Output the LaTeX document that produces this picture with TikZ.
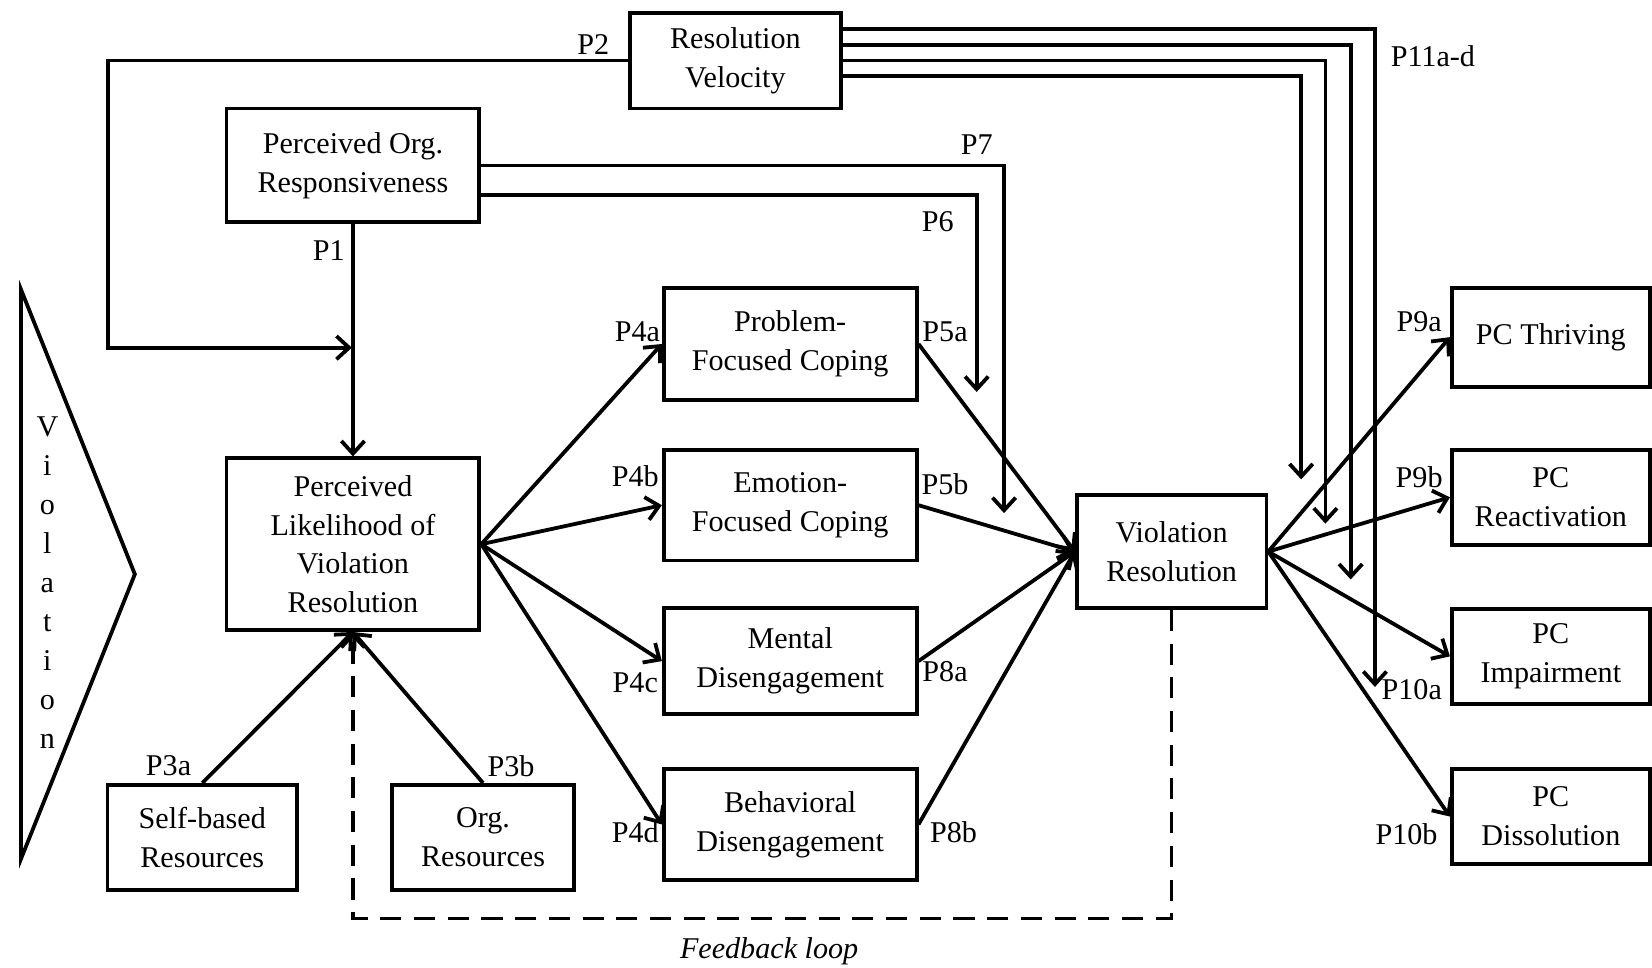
\documentclass[tikz,border=0pt]{standalone}
\usepackage{fontspec}
\setmainfont{Liberation Serif}
\usetikzlibrary{arrows.meta,calc}
\begin{document}
\begin{tikzpicture}[x=0.5pt,y=-0.5pt,
  box/.style={draw,line width=1.8pt,align=center,inner sep=2pt,font=\fontsize{14.3}{18.5}\selectfont},
  lbl/.style={font=\fontsize{14.3}{16}\selectfont,inner sep=0pt},
  arr/.style={line width=1.8pt,-{Straight Barb[length=6pt,width=11pt]}},
  ln/.style={line width=1.8pt},
  fb/.style={line width=1.8pt,dash pattern=on 10pt off 6pt,-{Straight Barb[length=6pt,width=11pt]}},
]
\useasboundingbox (0,0) rectangle (1568,918);

% boxes
\node[box,minimum width=100pt,minimum height=45.5pt] (RV) at (698,57.5) {Resolution\\Velocity};
\node[box,minimum width=120pt,minimum height=54pt] (POR) at (335,157) {Perceived Org.\\Responsiveness};
\node[box,minimum width=120pt,minimum height=81.5pt] (PLVR) at (335,516.5) {Perceived\\Likelihood of\\Violation\\Resolution};
\node[box,minimum width=90pt,minimum height=50pt] (SBR) at (192,795) {Self-based\\Resources};
\node[box,minimum width=86.5pt,minimum height=50pt] (OR) at (458.5,795) {Org.\\Resources};
\node[box,minimum width=120pt,minimum height=53.5pt] (PFC) at (750,326.5) {Problem-\\Focused Coping};
\node[box,minimum width=120pt,minimum height=52.5pt] (EFC) at (750,479.5) {Emotion-\\Focused Coping};
\node[box,minimum width=120pt,minimum height=50.5pt] (MD) at (750,627.5) {Mental\\Disengagement};
\node[box,minimum width=120pt,minimum height=52.5pt] (BD) at (750,782.5) {Behavioral\\Disengagement};
\node[box,minimum width=90pt,minimum height=53.5pt] (VR) at (1112,523.5) {Violation\\Resolution};
\node[box,minimum width=94pt,minimum height=47pt] (PCT) at (1472,320) {PC Thriving};
\node[box,minimum width=94pt,minimum height=45pt] (PCR) at (1472,472) {PC\\Reactivation};
\node[box,minimum width=94pt,minimum height=45pt] (PCI) at (1472,623) {PC\\Impairment};
\node[box,minimum width=94pt,minimum height=45pt] (PCD) at (1472,775) {PC\\Dissolution};

% violation triangle
\draw[ln,line join=miter] (20,275) -- (20,815) -- (128,545) -- cycle;
\node[align=center,font=\fontsize{14.3}{18.5}\selectfont,inner sep=0pt] (VIO) at (45,553) {V\\i\\o\\l\\a\\t\\i\\o\\n};

% free ends
\coordinate (p2end) at (334,330);
\coordinate (p7end) at (953,487);
\coordinate (p6end) at (927,372);
\coordinate (r1) at (1305,652);
\coordinate (r2) at (1282,550);
\coordinate (r3) at (1258,497);
\coordinate (r4) at (1235,455);

% connectors
\draw[arr] (RV.west) -- ++(-494,0) |- (p2end);
\draw[arr] (POR.south) -- (PLVR.north);
\draw[arr] (POR.east) -| (p7end);
\draw[arr] ([yshift=-14pt]POR.east) -| (p6end);
\draw[arr] ([yshift=15pt]RV.east) -| (r1);
\draw[arr] ([yshift=7.5pt]RV.east) -| (r2);
\draw[arr] (RV.east) -| (r3);
\draw[arr] ([yshift=-7.5pt]RV.east) -| (r4);

\draw[arr] (SBR.north) -- (PLVR.south);
\draw[arr] (OR.north) -- (PLVR.south);

\foreach \b in {PFC,EFC,MD,BD}{
  \draw[arr] (PLVR.east) -- (\b.west);
  \draw[arr] (\b.east) -- (VR.west);
}
\foreach \b in {PCT,PCR,PCI,PCD}{
  \draw[arr] (VR.east) -- (\b.west);
}
\draw[fb] (VR.south) -- ++(0,293) -| (PLVR.south);

% labels
\node[lbl] (L1) at (312,238) {P1};
\node[lbl] (L2) at (563,42) {P2};
\node[lbl] (L3a) at (160,727) {P3a};
\node[lbl] (L3b) at (485,727) {P3b};
\node[lbl] (L4a) at (605,315) {P4a};
\node[lbl] (L4b) at (603,452) {P4b};
\node[lbl] (L4c) at (603,648) {P4c};
\node[lbl] (L4d) at (603,790) {P4d};
\node[lbl] (L5a) at (897,315) {P5a};
\node[lbl] (L5b) at (897,460) {P5b};
\node[lbl] (L6) at (890,210) {P6};
\node[lbl] (L7) at (927,137) {P7};
\node[lbl] (L8a) at (897,637) {P8a};
\node[lbl] (L8b) at (905,790) {P8b};
\node[lbl] (L9a) at (1347,305) {P9a};
\node[lbl] (L9b) at (1347,453) {P9b};
\node[lbl] (L10a) at (1340,655) {P10a};
\node[lbl] (L10b) at (1335,792) {P10b};
\node[lbl] (L11) at (1360,53) {P11a-d};
\node[lbl,font=\fontsize{14.3}{16}\selectfont\itshape] (FB) at (730,903) {Feedback loop};
\end{tikzpicture}
\end{document}
